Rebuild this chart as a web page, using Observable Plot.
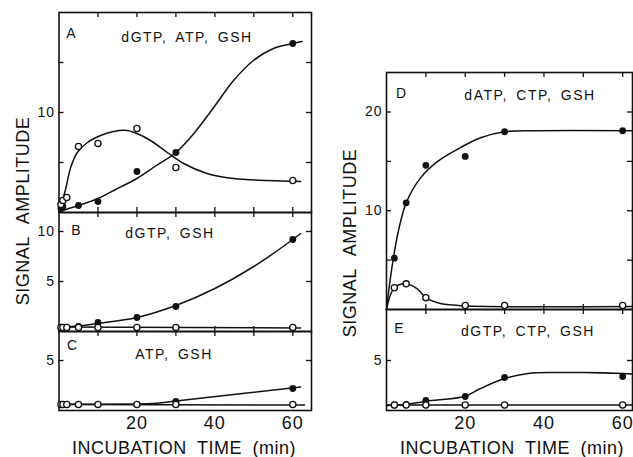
<!DOCTYPE html>
<html><head><meta charset="utf-8">
<script src="https://cdn.jsdelivr.net/npm/d3@7"></script>
<script src="https://cdn.jsdelivr.net/npm/@observablehq/plot@0.6"></script>
<style>
body{margin:0;background:#fff;}
#fig{position:relative;width:633px;height:457px;overflow:hidden;font-family:"Liberation Sans",Arial,sans-serif;color:#111;}
#fig svg{position:absolute;left:0;top:0;}
.t{position:absolute;white-space:nowrap;line-height:1;transform:translate(-50%,-50%);}
.v{transform:translate(-50%,-50%) rotate(-90deg);}
</style></head><body><div id="fig"></div>
<script>
// ---------- Panel A: dGTP, ATP, GSH ----------
const aFilledT = [0.5, 1, 5, 10, 20, 30, 60];
const aFilledY = [0.4, 0.6, 0.7, 1.1, 4.1, 6.0, 16.9];
const aOpenT = [0.5, 1, 2, 5, 10, 20, 30, 60];
const aOpenY = [0.8, 1.2, 1.5, 6.6, 6.9, 8.4, 4.5, 3.2];
const aFilledCurveT = [0, 5, 10, 15, 20, 25, 30, 34.6, 39.7, 44.8, 49.9, 55, 60, 62.4];
const aFilledCurveY = [0.1, 0.7, 1.4, 2.4, 3.4, 4.7, 6.0, 7.9, 10.5, 13.2, 15.2, 16.4, 16.9, 17.1];
const aOpenCurveT = [0, 0.9, 1.8, 3, 4.7, 7.3, 10.7, 14, 17.5, 20, 23.5, 27.8, 32, 38, 44.8, 53.5, 62];
const aOpenCurveY = [0.2, 1.2, 2.5, 4.5, 6.0, 7.0, 7.7, 8.1, 8.2, 7.9, 7.2, 6.0, 4.9, 3.9, 3.4, 3.2, 3.1];

// ---------- Panel B: dGTP, GSH ----------
const bFilledT = [0.5, 5, 10, 20, 30, 60];
const bFilledY = [0.4, 0.5, 0.9, 1.4, 2.5, 9.2];
const bOpenT = [0.5, 1, 2, 5, 10, 20, 30, 60];
const bOpenY = [0.4, 0.4, 0.4, 0.4, 0.4, 0.4, 0.4, 0.4];
const bFilledCurveT = [0, 5, 10, 20, 30, 40, 50, 60, 62];
const bFilledCurveY = [0.45, 0.55, 0.8, 1.4, 2.6, 4.3, 6.5, 9.2, 9.8];
const bOpenCurveT = [0, 62];
const bOpenCurveY = [0.45, 0.35];

// ---------- Panel C: ATP, GSH ----------
const cFilledT = [30, 60];
const cFilledY = [0.9, 2.2];
const cOpenT = [0.5, 1, 2, 5, 10, 20, 30, 60];
const cOpenY = [0.6, 0.6, 0.6, 0.6, 0.6, 0.6, 0.6, 0.6];
const cFilledCurveT = [0, 25, 30, 62];
const cFilledCurveY = [0.65, 0.72, 0.95, 2.35];
const cOpenCurveT = [0, 63];
const cOpenCurveY = [0.6, 0.55];

// ---------- Panel D: dATP, CTP, GSH ----------
const dT = [2, 5, 10, 20, 30, 60];
const dFilledY = [5.2, 10.8, 14.6, 15.5, 18.0, 18.1];
const dOpenY = [2.2, 2.6, 1.2, 0.4, 0.4, 0.4];
const dFilledCurveT = [0, 1, 2, 3, 5, 8.6, 13, 18.8, 23.9, 30, 38.4, 62.5];
const dFilledCurveY = [0, 3.2, 5.8, 7.9, 10.8, 13.3, 15.0, 16.4, 17.4, 18.0, 18.1, 18.1];
const dOpenCurveT = [0, 2, 5, 7.8, 10, 13.7, 17, 20, 62.5];
const dOpenCurveY = [0, 2.2, 2.6, 2.1, 1.2, 0.6, 0.45, 0.35, 0.3];

// ---------- Panel E: dGTP, CTP, GSH ----------
const eT = [2, 5, 10, 20, 30, 60];
const eFilledY = [0.55, 0.6, 1.0, 1.4, 3.3, 3.4];
const eOpenY = [0.55, 0.55, 0.55, 0.55, 0.55, 0.55];
const eFilledCurveT = [0, 5, 10, 20, 23.9, 30, 36, 42.6, 50, 60, 62.5];
const eFilledCurveY = [0.5, 0.6, 0.93, 1.43, 2.2, 3.2, 3.7, 3.8, 3.8, 3.7, 3.65];
const eOpenCurveT = [0, 62.5];
const eOpenCurveY = [0.55, 0.55];

// ---------- ticks and labels ----------
const xTickValues = [10, 20, 30, 40, 50, 60];
const xTickLabels = [20, 40, 60];
const yTicksA = [5, 10, 15], yLabelsA = [10];
const yTicksB = [5, 10], yLabelsB = [5, 10];
const yTicksC = [5], yLabelsC = [5];
const yTicksD = [5, 10, 15, 20], yLabelsD = [10, 20];
const yTicksE = [5], yLabelsE = [5];

const panelLetters = ["A", "B", "C", "D", "E"];
const panelTitles = ["dGTP, ATP, GSH", "dGTP, GSH", "ATP, GSH", "dATP, CTP, GSH", "dGTP, CTP, GSH"];
const xTitle = "INCUBATION TIME (min)";
const yTitle = "SIGNAL AMPLITUDE";

const zip = (t, y) => t.map((v, i) => ({t: v, y: y[i]}));
const W = 633, H = 457, INK = "#111";

function panel(o) {
  const pw = o.x1 - o.x0, ph = o.y1 - o.y0;
  const marks = [
    Plot.frame({stroke: INK, strokeWidth: 1.6}),
    Plot.tickY(o.yTicks, {y: d => d, insetRight: pw - 5, stroke: INK, strokeWidth: 1.3}),
    Plot.tickY(o.yTicks, {y: d => d, insetLeft: pw - 5, stroke: INK, strokeWidth: 1.3}),
    Plot.axisY(o.yLabels, {anchor: "left", tickSize: 0, tickPadding: 4, fontSize: 14, fill: INK, label: null}),
  ];
  if (o.topTicks) marks.push(Plot.tickX(xTickValues, {x: d => d, insetBottom: ph - 5, stroke: INK, strokeWidth: 1.3}));
  if (o.bottomTicks) marks.push(Plot.tickX(xTickValues, {x: d => d, insetTop: ph - 5, stroke: INK, strokeWidth: 1.3}));
  if (o.xLabels) marks.push(Plot.axisX(xTickLabels, {anchor: "bottom", tickSize: 0, tickPadding: 6, fontSize: 18, fill: INK, label: null}));
  for (const c of o.curves) marks.push(Plot.line(c, {x: "t", y: "y", curve: "catmull-rom", stroke: INK, strokeWidth: 1.5}));
  marks.push(Plot.dot(o.filled, {x: "t", y: "y", r: 3.4, fill: INK, stroke: "none"}));
  marks.push(Plot.dot(o.open, {x: "t", y: "y", r: 3.1, fill: "white", stroke: INK, strokeWidth: 1.3}));
  const xOpt = {domain: o.xd, label: null};
  if (!o.xLabels) xOpt.axis = null;
  return Plot.plot({
    width: W, height: H,
    marginLeft: o.x0, marginRight: W - o.x1, marginTop: o.y0, marginBottom: H - o.y1,
    x: xOpt, y: {domain: o.yd, label: null},
    style: {background: "transparent", fontFamily: "Liberation Sans, Arial, sans-serif", letterSpacing: "1px", color: INK},
    marks
  });
}

const fig = document.getElementById("fig");
const L = {x0: 58.5, x1: 311, xd: [0, 64.8]};
const R = {x0: 386, x1: 632, xd: [0, 62.5]};

const panels = [
  {...L, y0: 12, y1: 212, yd: [0, 20], yTicks: yTicksA, yLabels: yLabelsA, topTicks: true, bottomTicks: true,
   curves: [zip(aFilledCurveT, aFilledCurveY), zip(aOpenCurveT, aOpenCurveY)],
   filled: zip(aFilledT, aFilledY), open: zip(aOpenT, aOpenY)},
  {...L, y0: 212, y1: 331, yd: [0, 11.9], yTicks: yTicksB, yLabels: yLabelsB, topTicks: true, bottomTicks: true,
   curves: [zip(bFilledCurveT, bFilledCurveY), zip(bOpenCurveT, bOpenCurveY)],
   filled: zip(bFilledT, bFilledY), open: zip(bOpenT, bOpenY)},
  {...L, y0: 331, y1: 410, yd: [0, 7.9], yTicks: yTicksC, yLabels: yLabelsC, topTicks: true, xLabels: true,
   curves: [zip(cFilledCurveT, cFilledCurveY), zip(cOpenCurveT, cOpenCurveY)],
   filled: zip(cFilledT, cFilledY), open: zip(cOpenT, cOpenY)},
  {...R, y0: 72, y1: 309, yd: [0, 24], yTicks: yTicksD, yLabels: yLabelsD, topTicks: true, bottomTicks: true,
   curves: [zip(dFilledCurveT, dFilledCurveY), zip(dOpenCurveT, dOpenCurveY)],
   filled: zip(dT, dFilledY), open: zip(dT, dOpenY)},
  {...R, y0: 309, y1: 410, yd: [0, 10.1], yTicks: yTicksE, yLabels: yLabelsE, topTicks: true, xLabels: true,
   curves: [zip(eFilledCurveT, eFilledCurveY), zip(eOpenCurveT, eOpenCurveY)],
   filled: zip(eT, eFilledY), open: zip(eT, eOpenY)}
];
for (const p of panels) fig.appendChild(panel(p));

function addText(txt, x, y, size, cls, extra) {
  const d = document.createElement("div");
  d.className = "t" + (cls ? " " + cls : "");
  d.textContent = txt;
  d.style.left = x + "px"; d.style.top = y + "px"; d.style.fontSize = size + "px";
  Object.assign(d.style, extra || {});
  fig.appendChild(d);
}
const letterPos = [[71, 33], [76, 230], [72, 345], [401, 93], [399, 328]];
const titlePos = [[187, 37], [170, 233], [174, 354], [530, 95], [528, 331]];
panelLetters.forEach((s, i) => addText(s, letterPos[i][0], letterPos[i][1], 14, "", {letterSpacing: "0px"}));
panelTitles.forEach((s, i) => addText(s, titlePos[i][0], titlePos[i][1], 14, "", {letterSpacing: "1.5px", wordSpacing: "3px"}));
addText(xTitle, 184, 448, 18, "", {letterSpacing: "0.5px", wordSpacing: "5px"});
addText(xTitle, 512, 448, 18, "", {letterSpacing: "0.5px", wordSpacing: "5px"});
addText(yTitle, 23, 211, 18, "v", {letterSpacing: "0.5px", wordSpacing: "8px"});
addText(yTitle, 350, 243, 18, "v", {letterSpacing: "0.5px", wordSpacing: "8px"});
</script></body></html>
